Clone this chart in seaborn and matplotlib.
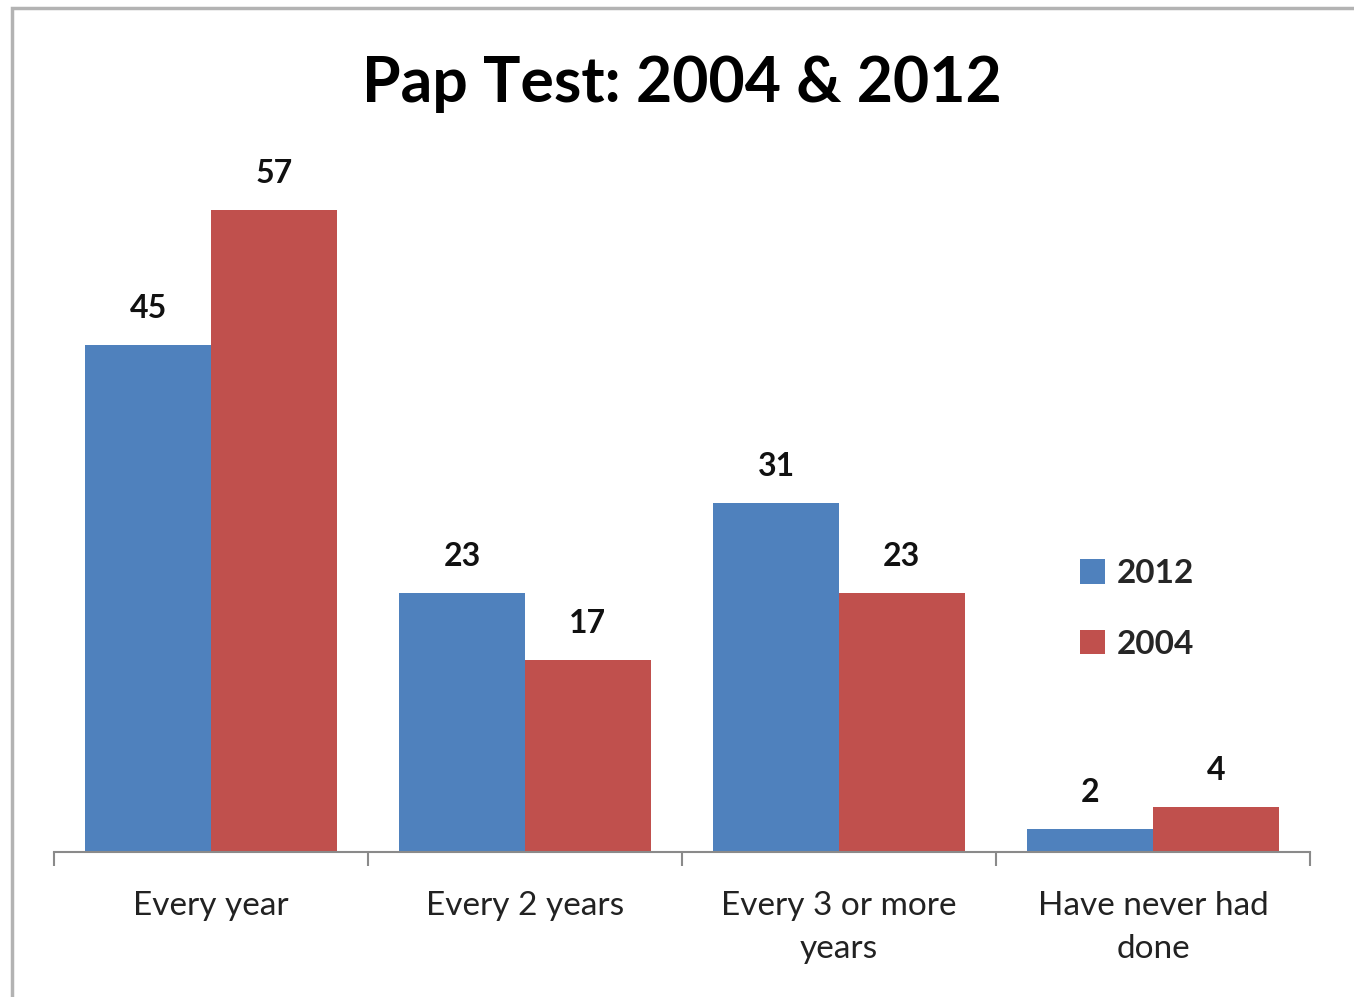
import matplotlib
matplotlib.use("Agg")
import matplotlib.pyplot as plt
import seaborn as sns
import pandas as pd
from matplotlib.patches import Rectangle
from matplotlib.ticker import FixedLocator

# chart data
categories = ["Every year", "Every 2 years", "Every 3 or more\nyears", "Have never had\ndone"]
values_2012 = [45, 23, 31, 2]
values_2004 = [57, 17, 23, 4]
years = ["2012", "2004"]

df = pd.DataFrame({
    "category": categories * 2,
    "year": [years[0]] * len(categories) + [years[1]] * len(categories),
    "value": values_2012 + values_2004,
})

sns.set_style("white")
plt.rcParams["font.family"] = ["Lato", "DejaVu Sans"]

W, H = 1354, 997
fig = plt.figure(figsize=(W / 100, H / 100), dpi=100)
ax = fig.add_axes([54 / W, 145 / H, 1256 / W, 676 / H])

sns.barplot(data=df, x="category", y="value", hue="year", hue_order=years,
            palette=["#4F81BD", "#C0504D"], width=0.8, saturation=1, linewidth=0, ax=ax)

ax.set_xlim(-0.5, len(categories) - 0.5)
ax.set_ylim(0, 60)

# value labels
for cont in ax.containers:
    ax.bar_label(cont, fontsize=23, fontweight="bold", padding=16, color="#111")

# axes styling
for s in ["top", "right", "left"]:
    ax.spines[s].set_visible(False)
ax.spines["bottom"].set_color("#8a8a8a")
ax.spines["bottom"].set_linewidth(1.5)
ax.set_yticks([])
ax.set_xlabel("")
ax.set_ylabel("")
ax.tick_params(axis="x", which="major", length=0, pad=28, labelsize=24, labelcolor="#222")
ax.xaxis.set_minor_locator(FixedLocator([i - 0.5 for i in range(len(categories) + 1)]))
ax.tick_params(axis="x", which="minor", bottom=True, length=10, width=1.5,
               color="#8a8a8a", direction="out")
for lbl in ax.get_xticklabels():
    lbl.set_linespacing(1.55)

# legend
handles, labels = ax.get_legend_handles_labels()
ax.legend(handles, labels, loc="upper left", bbox_to_anchor=(1050 / W, 1 - 529 / H),
          bbox_transform=fig.transFigure, frameon=False,
          prop={"weight": "bold", "size": 24}, handlelength=0.75, handleheight=0.75,
          handletextpad=0.35, labelspacing=1.25)

fig.text(682 / W, 1 - 84 / H, "Pap Test: 2004 & 2012", ha="center", va="center",
         fontsize=45, fontweight="bold", color="#000")

# chart frame
fig.patches.append(Rectangle((12 / W, -0.02), 1.1, 1 - 8 / H + 0.02, transform=fig.transFigure,
                             fill=False, edgecolor="#b3b3b3", linewidth=2.5))

fig.savefig("out.png", dpi=100)
